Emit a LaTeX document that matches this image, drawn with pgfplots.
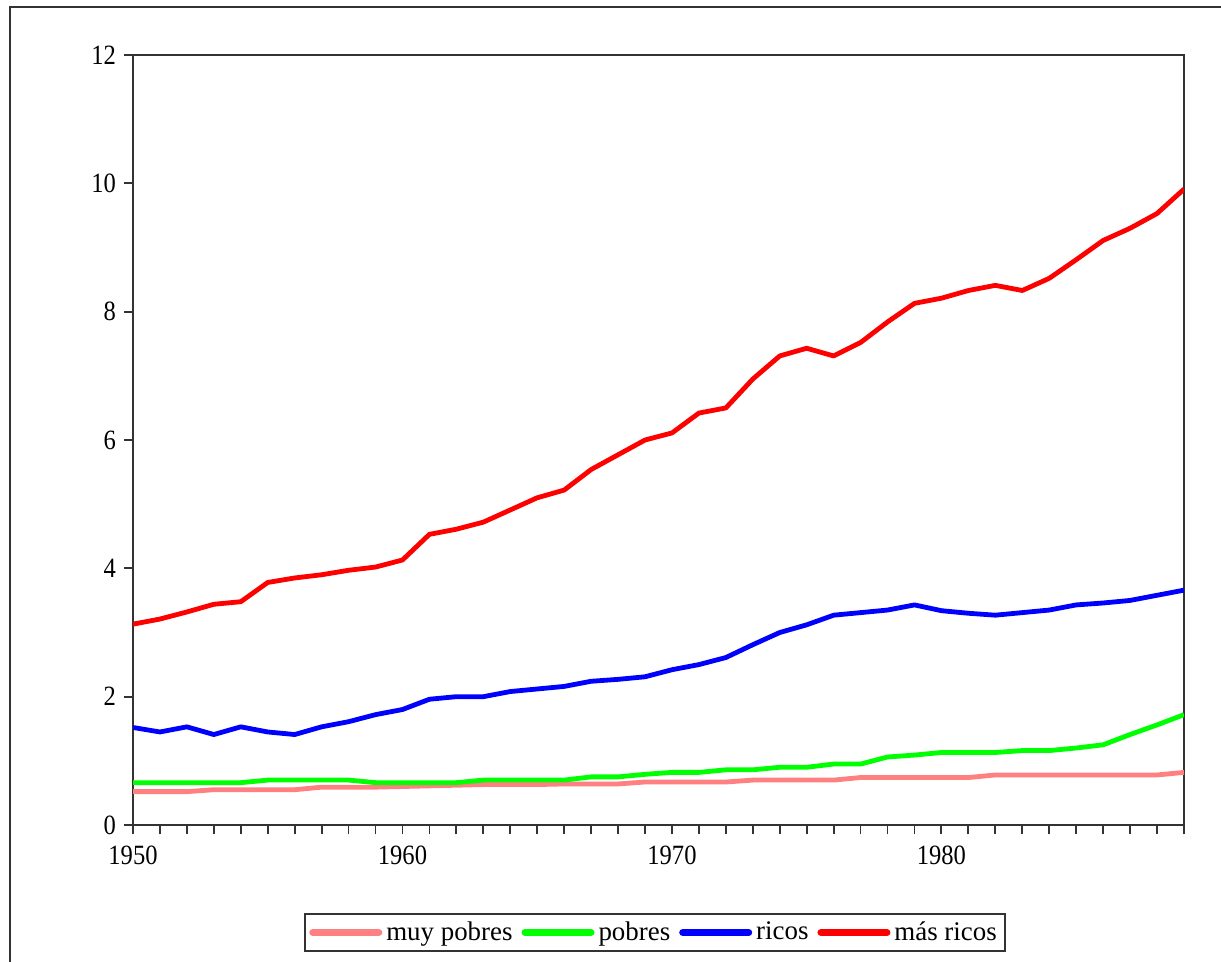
\documentclass[border=0pt]{standalone}
\usepackage{fontspec}
\setmainfont{Liberation Serif}
\newfontfamily\tickfont{Liberation Serif}[FakeStretch=0.88]
\usepackage{pgfplots}
\pgfplotsset{compat=1.18}
\usepackage{pgfplotstable}
\definecolor{cpink}{RGB}{255,128,128}
\definecolor{cgreen}{RGB}{0,255,0}
\definecolor{cblue}{RGB}{0,0,255}
\definecolor{cred}{RGB}{255,0,0}
\pgfplotstableread{
year mp p r mr
1950 0.52 0.66 1.52 3.13
1951 0.52 0.66 1.45 3.21
1952 0.52 0.66 1.53 3.32
1953 0.55 0.66 1.41 3.44
1954 0.55 0.66 1.53 3.48
1955 0.55 0.70 1.45 3.78
1956 0.55 0.70 1.41 3.85
1957 0.59 0.70 1.53 3.90
1958 0.59 0.70 1.61 3.97
1959 0.59 0.66 1.72 4.02
1960 0.60 0.66 1.80 4.13
1961 0.61 0.66 1.96 4.53
1962 0.62 0.66 2.00 4.61
1963 0.63 0.70 2.00 4.72
1964 0.63 0.70 2.08 4.91
1965 0.63 0.70 2.12 5.10
1966 0.64 0.70 2.16 5.22
1967 0.64 0.75 2.24 5.54
1968 0.64 0.75 2.27 5.77
1969 0.67 0.79 2.31 6.00
1970 0.67 0.82 2.42 6.11
1971 0.67 0.82 2.50 6.42
1972 0.67 0.86 2.61 6.50
1973 0.70 0.86 2.81 6.95
1974 0.70 0.90 3.00 7.31
1975 0.70 0.90 3.12 7.43
1976 0.70 0.95 3.27 7.31
1977 0.74 0.95 3.31 7.52
1978 0.74 1.06 3.35 7.84
1979 0.74 1.09 3.43 8.13
1980 0.74 1.13 3.34 8.21
1981 0.74 1.13 3.30 8.33
1982 0.78 1.13 3.27 8.41
1983 0.78 1.16 3.31 8.33
1984 0.78 1.16 3.35 8.52
1985 0.78 1.20 3.43 8.81
1986 0.78 1.25 3.46 9.11
1987 0.78 1.41 3.50 9.30
1988 0.78 1.56 3.58 9.53
1989 0.82 1.72 3.66 9.91
}\datatable
\begin{document}
\begin{tikzpicture}
\useasboundingbox (0,0) rectangle (610.5bp,-481bp);
\draw[black!80, line width=1bp] (5bp,-490bp) -- (5bp,-3.5bp) -- (620bp,-3.5bp);
\begin{axis}[
  at={(66.5bp,-412.5bp)}, anchor=south west,
  scale only axis, width=525.5bp, height=385bp,
  xmin=1950, xmax=1989, ymin=0, ymax=12,
  xtick={1950,1960,1970,1980},
  minor xtick={1950,...,1989},
  ytick={0,2,...,12},
  xtick pos=lower, ytick pos=left,
  tick align=outside,
  major tick length=4.5bp, minor tick length=4.5bp,
  axis line style={black!80, line width=1bp},
  every tick/.style={black!80, line width=0.9bp},
  minor tick style={black!80, line width=0.9bp},
  /pgf/number format/assume math mode=true,
  /pgf/number format/1000 sep={},
  ticklabel style={font=\tickfont\fontsize{14}{16}\selectfont, text=black},
  xticklabel style={yshift=-2.5bp},
  yticklabel style={xshift=-0.5bp},
  legend columns=4,
  legend style={at={(0.4967,-0.1396)}, anchor=center, draw=black!80, line width=0.9bp,
    font=\fontsize{13.5}{15}\selectfont, inner xsep=2bp, inner ysep=2bp,
    /tikz/every even column/.append style={column sep=2.5bp}},
  legend image code/.code={\draw[#1, line width=3.5bp, line cap=round] (0bp,0bp) -- (33bp,0bp);},
  every axis plot/.append style={line width=2.4bp, line join=round},
]
\addplot[cpink, no markers] table[x=year, y=mp] {\datatable};
\addlegendentry{muy pobres}
\addplot[cgreen, no markers] table[x=year, y=p] {\datatable};
\addlegendentry{pobres}
\addplot[cblue, no markers] table[x=year, y=r] {\datatable};
\addlegendentry{ricos}
\addplot[cred, no markers] table[x=year, y=mr] {\datatable};
\addlegendentry{más ricos}
\end{axis}
\end{tikzpicture}
\end{document}
